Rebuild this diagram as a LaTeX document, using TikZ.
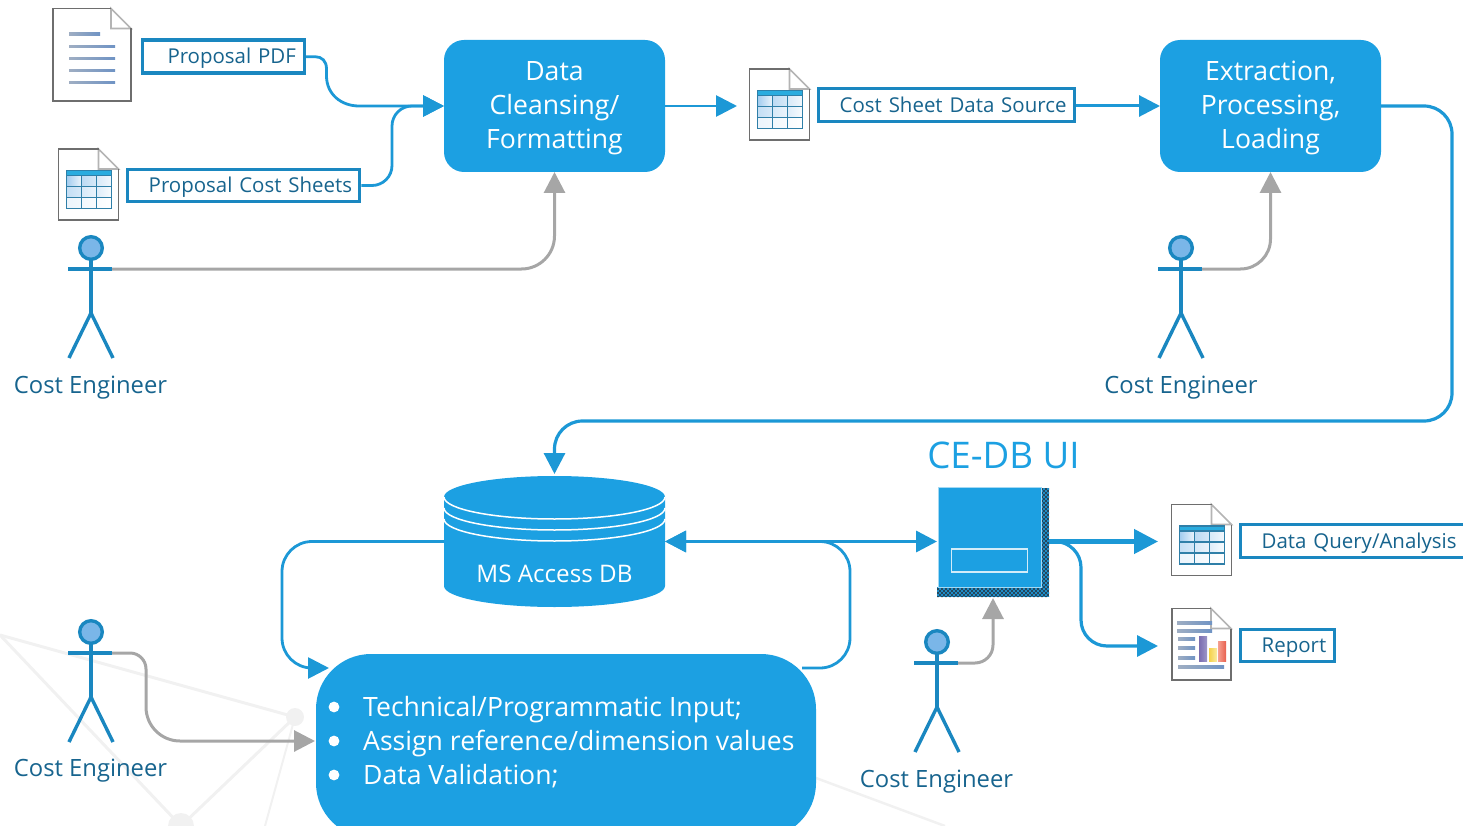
\documentclass[tikz,border=0pt]{standalone}
\usepackage{fontspec}
\usetikzlibrary{arrows.meta,calc}
\setmainfont{Open Sans}
\definecolor{boxblue}{HTML}{1CA0E2}
\definecolor{linkblue}{HTML}{1C98D6}
\definecolor{edgeblue}{HTML}{1A87C0}
\definecolor{headblue}{HTML}{7AB6E8}
\definecolor{labeltext}{HTML}{17648E}
\definecolor{linkgrey}{HTML}{A6A6A6}
\definecolor{netgrey}{HTML}{F1F1F1}
\definecolor{docedge}{HTML}{6E6E6E}
\definecolor{foldedge}{HTML}{B4B4B4}
\definecolor{rowblue}{HTML}{2AACDF}
\definecolor{gridblue}{HTML}{2F7FA8}
\definecolor{lineblue}{HTML}{6F93C4}
\definecolor{shadowblue}{HTML}{1F8CC6}
\definecolor{shadowdark}{HTML}{24485E}
\tikzset{
  x=1pt,y=-1pt,
  >={Triangle[length=21pt,width=21pt]},
  process/.style={fill=boxblue,rounded corners=20pt,minimum width=221pt,minimum height=132pt,inner sep=0pt,outer sep=0pt},
  bodytext/.style={text=white,align=center,inner sep=0pt,font=\fontsize{26.6}{34}\selectfont},
  caption/.style={draw=edgeblue,line width=3.4pt,fill=white,inner sep=0pt,outer sep=1.7pt,text=labeltext,
    font=\fontsize{20.45}{24}\selectfont,anchor=west,align=left,text height=17pt,text depth=2.4pt},
  actorlabel/.style={text=labeltext,font=\fontsize{23.8}{28}\selectfont,inner sep=0pt},
  link/.style={draw=linkblue,line width=2.8pt},
  greylink/.style={draw=linkgrey,line width=3pt},
  actorline/.style={draw=edgeblue,line width=3.4pt},
  netline/.style={draw=netgrey,line width=3pt},
}
% document icon: #1 = left, #2 = top, #3 = width, #4 = height
\newcommand{\docshape}[4]{%
  \fill[white] (#1,#2) -- ++(#3-20,0) -- ++(20,20) -- ++(0,#4-20) -- ++(-#3,0) -- cycle;
  \draw[foldedge,line width=1.6pt,fill=white] (#1+#3-20,#2) -- ++(0,20) -- ++(20,0) -- cycle;
  \draw[docedge,line width=1.8pt] (#1+#3-20,#2) -- (#1,#2) -- (#1,#2+#4) -- (#1+#3,#2+#4) -- (#1+#3,#2+20);
}
% table icon: top left of sheet
\newcommand{\sheeticon}[2]{%
  \docshape{#1}{#2}{60}{71}
  \begin{scope}[shift={(#1+8,#2+21.5)}]
    \fill[white] (0,0) rectangle (45,38);
    \fill[left color=headblue!70,right color=headblue!15] (0,5) rectangle (15,16);
    \fill[left color=headblue!50,right color=headblue!10] (15,5) rectangle (45,16);
    \fill[left color=headblue!45,right color=headblue!15] (0,16) rectangle (30,27);
    \fill[left color=headblue!25,right color=headblue!5] (30,16) rectangle (45,27);
    \fill[left color=headblue!15,right color=white] (0,27) rectangle (45,38);
    \fill[rowblue] (0,0) rectangle (45,5);
    \draw[gridblue,line width=1.3pt] (0,0) rectangle (45,38) (0,5) -- (45,5) (0,16) -- (45,16) (0,27) -- (45,27)
      (15,5) -- (15,38) (30,5) -- (30,38);
  \end{scope}
}
\newcommand{\txtbar}[4][1.4]{\fill[left color=lineblue!60!gray!70,right color=lineblue] (#2,#3-#1) rectangle (#4,#3+#1);}
% actor: #1 name, #2 x of spine, #3 head centre y
\newcommand{\actor}[3]{%
  \draw[actorline] (#2,#3+11) -- (#2,#3+65);
  \draw[actorline] (#2-23,#3+21) -- (#2+21,#3+21);
  \draw[actorline] (#2-22,#3+110) -- (#2,#3+65) -- (#2+22,#3+110);
  \draw[actorline,fill=headblue] (#2,#3) circle (11.3);
  \coordinate (#1) at (#2+21,#3+21);
}
\begin{document}
\begin{tikzpicture}
\useasboundingbox (0,0) rectangle (1463,826);
\begin{scope}
\clip (0,0) rectangle (1463,826);
% faint background network
\draw[netline] (0,635) -- (295,717) -- (181,826);
\draw[netline] (0,635) -- (181,826);
\draw[netline,line width=2pt] (295,717) -- (265,826);
\fill[netgrey] (295,717) circle (9);
\fill[netgrey] (181,826) circle (13);
\draw[netline,line width=2.5pt] (816,778) -- (945,826);

% process nodes
\node[process] (cleanse) at (554.5,106) {};
\node[bodytext] (cleansetext) at (554.5,108.5) {Data\\Cleansing/\\Formatting};
\node[process] (etl) at (1270.5,106) {};
\node[bodytext] (etltext) at (1270.5,108) {Extraction,\\Processing,\\Loading};

% input box (runs past the page bottom)
\node[fill=boxblue,rounded corners=55pt,minimum width=500pt,minimum height=184pt,inner sep=0pt,outer sep=0pt] (input) at (566,746) {};
\node[bodytext,anchor=north west,align=left] (inputtext) at (363,696.5)
  {Technical/Programmatic Input;\\Assign reference/dimension values\\Data Validation;};
\foreach \n/\y in {a/707,b/741,c/775} \fill[white] (334,\y) circle (5.4) coordinate (bullet\n);

% captions
\node[caption,text width=162pt,minimum height=33pt] (pdfcap) at (140.8,56.7) {\hspace*{25pt}Proposal PDF};
\node[caption,text width=232pt,minimum height=32pt] (sheetcap) at (126,185.5) {\hspace*{21pt}Proposal Cost Sheets};
\node[caption,text width=256pt,minimum height=33pt] (sourcecap) at (817,105) {\hspace*{21pt}Cost Sheet Data Source};
\node[caption,text width=240pt,minimum height=32.6pt] (querycap) at (1239,541) {\hspace*{21pt}Data Query/Analysis};
\node[caption,text width=93.6pt,minimum height=32pt] (reportcap) at (1239,645.5) {\hspace*{21pt}Report};

% documents
\docshape{53}{8.5}{78}{92.5}
\txtbar[1.9]{69}{34}{100}
\foreach \y in {46.5,58.5,70.5,82.5} {\txtbar{69}{\y}{115}}
\sheeticon{58.5}{149}
\sheeticon{749.5}{69}
\sheeticon{1171.5}{504.5}
% report icon
\docshape{1172}{608.5}{59}{71.5}
\txtbar{1177}{622.7}{1212}
\txtbar{1177}{631}{1212}
\txtbar{1178}{638.7}{1195}
\txtbar{1178}{648}{1195}
\txtbar{1178}{657.7}{1195}
\txtbar{1178}{667}{1224}
\definecolor{barA}{HTML}{7B6DB0}\definecolor{barB}{HTML}{9C96C8}
\definecolor{barC}{HTML}{F5D24A}\definecolor{barD}{HTML}{FBEBA0}
\definecolor{barE}{HTML}{F5A090}\definecolor{barF}{HTML}{E8604E}
\fill[left color=barA,right color=barB] (1199,636) rectangle (1207,661);
\fill[left color=barC,right color=barD] (1209,648) rectangle (1217,661);
\fill[left color=barE,right color=barF] (1218,641) rectangle (1226,661);

% database
\path[fill=boxblue] (444,497) arc[start angle=180,end angle=360,x radius=110.5,y radius=21]
  -- (665,586) arc[start angle=0,end angle=180,x radius=110.5,y radius=21] -- cycle;
\foreach \y in {497,508,519}
  \draw[white,line width=1.5pt] (444,\y) arc[start angle=180,end angle=0,x radius=110.5,y radius=22];
\node[inner sep=0pt,minimum width=221pt,minimum height=131pt,outer sep=0pt] (db) at (554.5,541.5) {};
\node[text=white,font=\fontsize{24.2}{28}\selectfont,inner sep=0pt] (dblabel) at (554.5,573.5) {MS Access DB};

% CE-DB UI window, with its dithered shadow
\begin{scope}
  \clip (937,587) rectangle (1049,597) (1041,488) rectangle (1049,597);
  \fill[shadowblue] (937,488) rectangle (1049,597);
  \foreach \ry in {489,493,...,597}
    \draw[shadowdark,line width=2pt,dash pattern=on 2pt off 2pt] (937,\ry) -- (1049,\ry);
  \foreach \ry in {491,495,...,597}
    \draw[shadowdark,line width=2pt,dash pattern=on 2pt off 2pt,dash phase=2pt] (937,\ry) -- (1049,\ry);
\end{scope}
\node[fill=boxblue,minimum width=103pt,minimum height=100pt,inner sep=0pt,outer sep=0pt,draw=boxblue!40,line width=.6pt] (ui) at (989.5,537) {};
\node[draw=white!80!boxblue,line width=1.4pt,minimum width=76pt,minimum height=23pt,inner sep=0pt] (uifield) at (989.5,560.5) {};
\node[text=boxblue,font=\fontsize{36.7}{40}\selectfont,inner sep=0pt] (uititle) at (1003.5,455.5) {CE-DB UI};

% actors
\actor{actorA}{91}{248}
\actor{actorB}{1181}{248}
\actor{actorC}{91}{632}
\actor{actorD}{937}{642}
\node[actorlabel] (labA) at (90.5,388) {Cost Engineer};
\node[actorlabel] (labB) at (1181,388) {Cost Engineer};
\node[actorlabel] (labC) at (90.5,771) {Cost Engineer};
\node[actorlabel] (labD) at (936.5,782) {Cost Engineer};

% named bends
\coordinate (bendSheet) at (392,106);
\coordinate (bendEtl) at (1452,421);
\coordinate (bendLoopL) at (282,668);
\coordinate (bendLoopR) at (850,668);
\coordinate (bendBranch) at (1081,646);
\coordinate (bendC) at (146,741);
\coordinate (tipLoop) at (329,668);
\coordinate (tipInput) at (315,741);
\coordinate (tipDbTop) at (554.5,474);
\coordinate (tipUi) at (993,598);
\coordinate (startInput) at (802,668);
\coordinate (dbL) at (444,541.5);
\coordinate (dbR) at (665,541.5);
\coordinate (uiL) at (937,541.5);
\coordinate (uiR) at (1049,541.5);
\coordinate (tipQuery) at (1158,541.5);
\coordinate (branchStart) at (1060,541.5);
\coordinate (tipReport) at (1158,646);
\coordinate (tipSource) at (737,106);

% connectors
\draw[link,->] (pdfcap.east) -- (315,56.7) .. controls (322,56.7) and (326.5,61) .. (326.5,69) -- (326.5,76)
   .. controls (326.5,94) and (341,106) .. (359,106) -- (cleanse.west);
\draw[link,->,rounded corners=20pt] (sheetcap.east) -- (sheetcap.east -| bendSheet) -- (bendSheet) -- (cleanse.west);
\draw[greylink,->,rounded corners=33pt] (actorA) -- (actorA -| cleanse.south) -- (cleanse.south);
\draw[link,->] (cleanse.east) -- (tipSource);
\draw[link,->,line width=3pt] (etl.west -| sourcecap.east) -- (etl.west);
\draw[greylink,->,rounded corners=30pt] (actorB) -- (actorB -| etl.south) -- (etl.south);
\draw[link,->,line width=3.2pt,rounded corners=28pt] (etl.east) -- (etl.east -| bendEtl) -- (bendEtl) -- (tipDbTop |- bendEtl) -- (tipDbTop);
\draw[link,->,line width=2.8pt,rounded corners=30pt] (dbL) -- (dbL -| bendLoopL) -- (bendLoopL) -- (tipLoop);
\draw[link,->,line width=2.8pt,rounded corners=30pt] (startInput) -- (bendLoopR) -- (bendLoopR |- dbR) -- (dbR);
\draw[link,<->,line width=3.4pt] (dbR) -- (uiL);
\draw[link,->,line width=4.5pt,>={Triangle[length=24pt,width=24pt]}] (uiR) -- (tipQuery);
\draw[link,->,line width=3.2pt,rounded corners=26pt] (branchStart) -- (branchStart -| bendBranch) -- (bendBranch) -- (tipReport);
\draw[greylink,->,rounded corners=18pt] (actorD) -- (actorD -| tipUi) -- (tipUi);
\draw[greylink,->] (actorC) [rounded corners=16pt] -- (actorC -| bendC) [rounded corners=34pt] -- (bendC) -- (tipInput);
\end{scope}
\end{tikzpicture}
\end{document}
